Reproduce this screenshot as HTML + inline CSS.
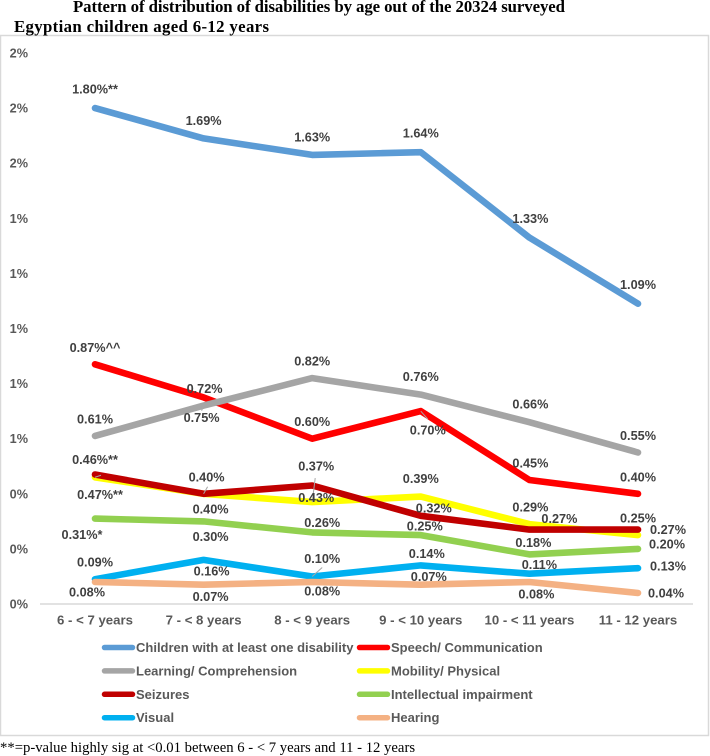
<!DOCTYPE html>
<html lang="en">
<head>
<meta charset="utf-8">
<title>Pattern of distribution of disabilities by age</title>
<style>
html,body{margin:0;padding:0;background:#fff;width:710px;height:756px;overflow:hidden}
#chart{display:block;position:absolute;left:0;top:0;filter:blur(0.35px)}
.title{font-family:"Liberation Serif",serif;font-weight:bold;font-size:16.8px;fill:#000}
.foot{font-family:"Liberation Serif",serif;font-size:14.7px;fill:#000}
.tick,.cat,.leg{font-family:"Liberation Sans",sans-serif;font-weight:bold;fill:#595959}
.tick{font-size:12.7px}
.cat{font-size:13.2px}
.leg{font-size:13px}
.val{font-family:"Liberation Sans",sans-serif;font-weight:bold;font-size:12.7px;fill:#404040}
</style>
</head>
<body>
<svg id="chart" xmlns="http://www.w3.org/2000/svg" width="710" height="756" viewBox="0 0 710 756">
  <rect x="0.5" y="35.5" width="708" height="700" fill="#fff" stroke="#d9d9d9" stroke-width="1.5"/>
  <text class="title" x="73" y="12" textLength="492" lengthAdjust="spacing">Pattern of distribution of disabilities by age out of the 20324 surveyed</text>
  <text class="title" x="14" y="32" textLength="255" lengthAdjust="spacing">Egyptian children aged 6-12 years</text>
  <g id="axes"></g>
  <g id="lines"></g>
  <g id="leaders"></g>
  <g id="labels"></g>
  <g id="legend"></g>
  <text class="foot" x="0" y="752">**=p-value highly sig at &lt;0.01 between 6 - &lt; 7 years and 11 - 12 years</text>
</svg>
<script>
const categories = ['6 - < 7 years', '7 - < 8 years', '8 - < 9 years', '9 - < 10 years', '10 - < 11 years', '11 - 12 years'];
const tickValues = [0, 0.2, 0.4, 0.6, 0.8, 1.0, 1.2, 1.4, 1.6, 1.8, 2.0];
const tickLabels = ['0%', '0%', '0%', '1%', '1%', '1%', '1%', '1%', '2%', '2%', '2%'];

const seriesNames = ['Children with at least one disability', 'Speech/ Communication', 'Learning/ Comprehension', 'Mobility/ Physical', 'Seizures', 'Intellectual impairment', 'Visual', 'Hearing'];

const anyDisability = [1.80, 1.69, 1.63, 1.64, 1.33, 1.09];
const speech = [0.87, 0.75, 0.60, 0.70, 0.45, 0.40];
const learning = [0.61, 0.72, 0.82, 0.76, 0.66, 0.55];
const mobility = [0.46, 0.40, 0.37, 0.39, 0.29, 0.25];
const seizures = [0.47, 0.40, 0.43, 0.32, 0.27, 0.27];
const intellectual = [0.31, 0.30, 0.26, 0.25, 0.18, 0.20];
const visual = [0.09, 0.16, 0.10, 0.14, 0.11, 0.13];
const hearing = [0.08, 0.07, 0.08, 0.07, 0.08, 0.04];

const anyDisabilityLabels = ['1.80%**', '1.69%', '1.63%', '1.64%', '1.33%', '1.09%'];
const speechLabels = ['0.87%^^', '0.75%', '0.60%', '0.70%', '0.45%', '0.40%'];
const learningLabels = ['0.61%', '0.72%', '0.82%', '0.76%', '0.66%', '0.55%'];
const mobilityLabels = ['0.46%**', '0.40%', '0.37%', '0.39%', '0.29%', '0.25%'];
const seizuresLabels = ['0.47%**', '0.40%', '0.43%', '0.32%', '0.27%', '0.27%'];
const intellectualLabels = ['0.31%*', '0.30%', '0.26%', '0.25%', '0.18%', '0.20%'];
const visualLabels = ['0.09%', '0.16%', '0.10%', '0.14%', '0.11%', '0.13%'];
const hearingLabels = ['0.08%', '0.07%', '0.08%', '0.07%', '0.08%', '0.04%'];

const allValues = [anyDisability, speech, learning, mobility, seizures, intellectual, visual, hearing];
const allLabels = [anyDisabilityLabels, speechLabels, learningLabels, mobilityLabels, seizuresLabels, intellectualLabels, visualLabels, hearingLabels];

/* presentation only: colours, and label nudges relative to each data point */
const seriesColors = ['#5B9BD5', '#FF0000', '#A5A5A5', '#FFFF00', '#C00000', '#92D050', '#00B0F0', '#F4B183'];
const labelNudgeX = [
  [0, 0, 0, 0, 1, 0], [0, -2, 0, 7, 1, 0], [0, 1, 0, 0, 1, 0], [0, 3, 4, 0, 1, 0],
  [5, 7, 4, 13, 30, 30], [-13, 7, 10, 4, 4, 29], [0, 8, 10, 6, 10, 30], [-8, 7, 10, 8, 7, 28]
];
const labelNudgeY = [
  [-19, -18, -18, -19, -19, -19], [-17, 20, -17, 19, -17, -17], [-17, -17, -17, -18, -18, -17], [-18, -17, -36, -18, -17, -17],
  [20, 15, 12, -8, -11, 0], [16, 15, -10, -9, -12, -5], [-17, 11, -18, -12, -9, -2], [10, 12, 9, -8, 12, 0]
];

const NS = 'http://www.w3.org/2000/svg';
const xScale = function (i) { return 95 + 108.6 * i; };
const yScale = function (v) { return 604 - v * 275.5; };

function make(tag, attrs, parent, text) {
  const el = document.createElementNS(NS, tag);
  for (const k in attrs) el.setAttribute(k, attrs[k]);
  if (text !== undefined) el.textContent = text;
  parent.appendChild(el);
  return el;
}

const axes = document.getElementById('axes');
const linesGroup = document.getElementById('lines');
const leaders = document.getElementById('leaders');
const labels = document.getElementById('labels');
const legend = document.getElementById('legend');

tickValues.forEach(function (v, i) {
  const t = make('text', {class: 'tick', x: 28, y: yScale(v) + 4.5, 'text-anchor': 'end'}, axes, tickLabels[i]);
  
  
});

const baseline = make('line', {x1: 40, x2: 693, y1: yScale(0), y2: yScale(0), stroke: '#d9d9d9', 'stroke-width': 1.5}, axes);



categories.forEach(function (c, i) {
  const t = make('text', {class: 'cat', x: xScale(i), y: 624.5, 'text-anchor': 'middle'}, axes, c);
  
  
});

allValues.forEach(function (vals, s) {
  const pts = vals.map(function (v, i) { return xScale(i).toFixed(1) + ',' + yScale(v).toFixed(1); }).join(' ');
  const line = make('polyline', {points: pts, fill: 'none', stroke: seriesColors[s], 'stroke-width': 6.6, 'stroke-linecap': 'round', 'stroke-linejoin': 'round'}, linesGroup);
  
  

  allLabels[s].forEach(function (lab, i) {
    const t = make('text', {class: 'val', x: xScale(i) + labelNudgeX[s][i], y: yScale(vals[i]) + labelNudgeY[s][i] + 4.5, 'text-anchor': 'middle'}, labels, lab);
    
    
  });
});

/* leader lines: series index, category index, end offset from the point */
const leaderSpecs = [
  [2, 1, -2, 5], [4, 1, 4, -7], [3, 0, 6, -2], [3, 2, 3, -24], [6, 2, 10, -9], [1, 3, 7, 8]
];
leaderSpecs.forEach(function (sp) {
  const px = xScale(sp[1]);
  const py = yScale(allValues[sp[0]][sp[1]]);
  const l = make('line', {x1: px, y1: py, x2: px + sp[2], y2: py + sp[3], stroke: '#a6a6a6', 'stroke-width': 1}, leaders);
  
  
});

seriesNames.forEach(function (name, s) {
  const col = s % 2;
  const row = Math.floor(s / 2);
  const lx = col === 0 ? 104.5 : 359.5;
  const ly = 647.5 + row * 23.4;
  const sw = make('line', {x1: lx, x2: lx + 28, y1: ly, y2: ly, stroke: seriesColors[s], 'stroke-width': 5.5, 'stroke-linecap': 'round'}, legend);
  
  
  const t = make('text', {class: 'leg', x: lx + 31.5, y: ly + 4.5}, legend, name);
  
  
});
</script>
</body>
</html>
